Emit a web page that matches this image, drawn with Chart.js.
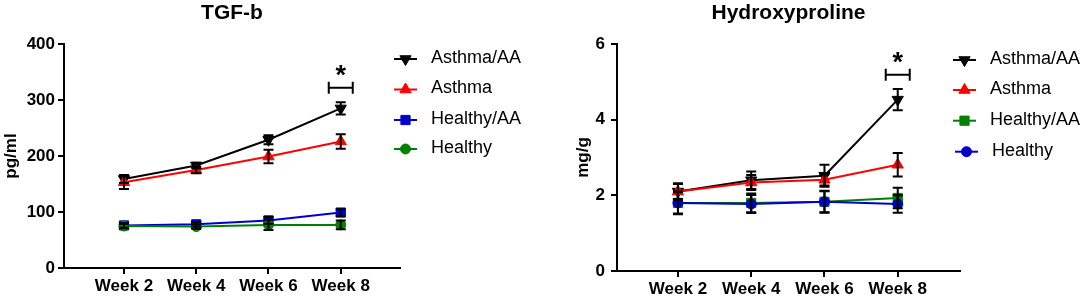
<!DOCTYPE html>
<html>
<head>
<meta charset="utf-8">
<script src="https://cdn.jsdelivr.net/npm/chart.js@4.4.1/dist/chart.umd.min.js"></script>
<style>
  html, body { margin: 0; padding: 0; background: #fff; }
  #wrap { position: relative; width: 1084px; height: 298px; overflow: hidden; }
  canvas { position: absolute; top: 0; }
</style>
</head>
<body>
<div id="wrap">
  <canvas id="tgf" width="540" height="298" style="left:0"></canvas>
  <canvas id="hyp" width="544" height="298" style="left:540px"></canvas>
</div>
<script>
const weeks = [2, 4, 6, 8];
const seriesNames = ['Asthma/AA', 'Asthma', 'Healthy/AA', 'Healthy'];

// TGF-b (pg/ml), mean and error per week
const tgfAsthmaAA = [159, 183, 229, 285];
const tgfAsthmaAAErr = [7, 5, 8, 11];
const tgfAsthma = [153, 175, 199, 226];
const tgfAsthmaErr = [12, 6, 12, 13];
const tgfHealthyAA = [76, 78, 85, 99];
const tgfHealthyAAErr = [4, 4, 6, 6];
const tgfHealthy = [75, 74, 77, 77];
const tgfHealthyErr = [4, 4, 9, 8];
const tgfTicks = [0, 100, 200, 300, 400];
const tgfSig = [8, 322, 350]; // week, bracket level, star level

// Hydroxyproline (mg/g)
const hypAsthmaAA = [2.1, 2.4, 2.52, 4.53];
const hypAsthmaAAErr = [0.22, 0.23, 0.29, 0.28];
const hypAsthma = [2.1, 2.34, 2.41, 2.81];
const hypAsthmaErr = [0.2, 0.2, 0.15, 0.31];
const hypHealthyAA = [1.8, 1.8, 1.83, 1.93];
const hypHealthyAAErr = [0.28, 0.25, 0.29, 0.27];
const hypHealthy = [1.8, 1.77, 1.83, 1.77];
const hypHealthyErr = [0.3, 0.24, 0.28, 0.23];
const hypTicks = [0, 2, 4, 6];
const hypSig = [8, 5.19, 5.62];

const FONT = '"Liberation Sans", Arial, sans-serif';

function drawMarker(ctx, style, r, rot, x, y) {
  ctx.beginPath();
  if (style === 'triangle') {
    let a = rot * Math.PI / 180;
    ctx.moveTo(x + Math.sin(a) * r, y - Math.cos(a) * r);
    a += 2 * Math.PI / 3;
    ctx.lineTo(x + Math.sin(a) * r, y - Math.cos(a) * r);
    a += 2 * Math.PI / 3;
    ctx.lineTo(x + Math.sin(a) * r, y - Math.cos(a) * r);
    ctx.closePath();
  } else if (style === 'rect') {
    const s = Math.SQRT1_2 * r;
    ctx.rect(x - s, y - s, 2 * s, 2 * s);
  } else {
    ctx.arc(x, y, r, 0, Math.PI * 2);
  }
  ctx.fill();
  ctx.stroke();
}

const decor = {
  id: 'decor',
  afterDatasetsDraw(chart, args, opts) {
    const ctx = chart.ctx;
    const xs = chart.scales.x, ys = chart.scales.y;
    ctx.save();
    ctx.strokeStyle = '#000';
    ctx.lineWidth = 2;
    // error bars
    chart.data.datasets.forEach(ds => {
      ds.data.forEach((pt, i) => {
        const e = ds.errors[i];
        const x = xs.getPixelForValue(pt.x);
        const y1 = ys.getPixelForValue(pt.y + e);
        const y2 = ys.getPixelForValue(pt.y - e);
        ctx.beginPath();
        ctx.moveTo(x, y1); ctx.lineTo(x, y2);
        ctx.moveTo(x - 5, y1); ctx.lineTo(x + 5, y1);
        ctx.moveTo(x - 5, y2); ctx.lineTo(x + 5, y2);
        ctx.stroke();
      });
    });
    // significance bracket
    const sig = opts.sig;
    const sx = xs.getPixelForValue(sig[0]);
    const sy = ys.getPixelForValue(sig[1]);
    ctx.beginPath();
    ctx.moveTo(sx - 12, sy); ctx.lineTo(sx + 12, sy);
    ctx.moveTo(sx - 12, sy - 6); ctx.lineTo(sx - 12, sy + 6);
    ctx.moveTo(sx + 12, sy - 6); ctx.lineTo(sx + 12, sy + 6);
    ctx.stroke();
    ctx.fillStyle = '#000';
    ctx.font = 'bold 27px ' + FONT;
    ctx.textAlign = 'center';
    ctx.textBaseline = 'middle';
    ctx.fillText('*', sx, ys.getPixelForValue(sig[2]) + 5);
    ctx.restore();
  },
  afterDraw(chart, args, opts) {
    const ctx = chart.ctx;
    const area = chart.chartArea;
    ctx.save();
    // title
    ctx.fillStyle = '#000';
    ctx.font = 'bold 21px ' + FONT;
    ctx.textAlign = 'center';
    ctx.textBaseline = 'middle';
    ctx.fillText(opts.title, (area.left + area.right) / 2, 13);
    // legend
    const lg = opts.legend;
    ctx.font = '18px ' + FONT;
    ctx.textAlign = 'left';
    chart.data.datasets.forEach((ds, i) => {
      const y = lg.rows[i];
      const dx = lg.shift[i];
      ctx.strokeStyle = ds.borderColor;
      ctx.fillStyle = ds.borderColor;
      ctx.lineWidth = 2;
      ctx.beginPath();
      ctx.moveTo(lg.x + dx, y); ctx.lineTo(lg.x + dx + 23, y);
      ctx.stroke();
      ctx.lineWidth = 1;
      drawMarker(ctx, ds.pointStyle, ds.pointRadius, ds.pointRotation || 0, lg.x + dx + 11.5, y);
      ctx.fillStyle = '#000';
      ctx.fillText(ds.label, lg.x + dx + 37, y - 1);
    });
    ctx.restore();
  }
};

function makeChart(id, cfg) {
  const styles = [
    { pointStyle: 'triangle', pointRotation: 180, pointRadius: 6.5 },
    { pointStyle: 'triangle', pointRotation: 0, pointRadius: 6.5 },
    { pointStyle: 'rect', pointRotation: 0, pointRadius: 6.5 },
    { pointStyle: 'circle', pointRotation: 0, pointRadius: 5 }
  ];
  const datasets = cfg.values.map((vals, i) => ({
    label: seriesNames[i],
    data: weeks.map((w, j) => ({ x: w, y: vals[j] })),
    errors: cfg.errors[i],
    borderColor: cfg.colors[i],
    backgroundColor: cfg.colors[i],
    pointBackgroundColor: cfg.colors[i],
    pointBorderColor: cfg.colors[i],
    pointBorderWidth: 1,
    borderWidth: 2,
    tension: 0,
    order: 3 - i,
    ...styles[i]
  }));

  return new Chart(document.getElementById(id).getContext('2d'), {
    type: 'line',
    data: { datasets },
    plugins: [decor],
    options: {
      responsive: false,
      animation: false,
      events: [],
      layout: { padding: { left: 0, right: cfg.padRight, top: 44, bottom: 0 } },
      scales: {
        x: {
          type: 'linear',
          min: cfg.xMin,
          max: cfg.xMax,
          afterBuildTicks: s => { s.ticks = weeks.map(v => ({ value: v })); },
          afterFit: s => { s.height = cfg.xHeight; },
          grid: { display: true, drawOnChartArea: false, drawTicks: true, tickLength: 6, color: '#000', lineWidth: 2 },
          border: { display: true, color: '#000', width: 2 },
          ticks: {
            autoSkip: false, maxRotation: 0, padding: 2, color: '#000',
            font: { family: FONT, size: 17, weight: 'bold' },
            callback: v => 'Week ' + v
          }
        },
        y: {
          min: cfg.ticks[0],
          max: cfg.ticks[cfg.ticks.length - 1],
          afterBuildTicks: s => { s.ticks = cfg.ticks.map(v => ({ value: v })); },
          afterFit: s => { s.width = cfg.yWidth; },
          grid: { display: true, drawOnChartArea: false, drawTicks: true, tickLength: 6, color: '#000', lineWidth: 2 },
          border: { display: true, color: '#000', width: 2 },
          ticks: { padding: cfg.tickPad, color: '#000', font: { family: FONT, size: 17, weight: 'bold' } },
          title: {
            display: true, text: cfg.yTitle, color: '#000',
            padding: { top: cfg.yTitlePad, bottom: 0 },
            font: { family: FONT, size: 17, weight: 'bold' }
          }
        }
      },
      plugins: {
        legend: { display: false },
        tooltip: { enabled: false },
        decor: { title: cfg.title, sig: cfg.sig, legend: cfg.legend }
      }
    }
  });
}

makeChart('tgf', {
  title: 'TGF-b',
  yTitle: 'pg/ml',
  values: [tgfAsthmaAA, tgfAsthma, tgfHealthyAA, tgfHealthy],
  errors: [tgfAsthmaAAErr, tgfAsthmaErr, tgfHealthyAAErr, tgfHealthyErr],
  colors: ['#000000', '#ff0000', '#0000cc', '#008000'],
  ticks: tgfTicks,
  sig: tgfSig,
  xMin: 0.34, xMax: 9.64,
  padRight: 140, xHeight: 30, yWidth: 64, tickPad: 3, yTitlePad: 1,
  legend: { x: 394, rows: [59, 89.5, 120, 149], shift: [0, 0, 0, 0] }
});

makeChart('hyp', {
  title: 'Hydroxyproline',
  yTitle: 'mg/g',
  values: [hypAsthmaAA, hypAsthma, hypHealthyAA, hypHealthy],
  errors: [hypAsthmaAAErr, hypAsthmaErr, hypHealthyAAErr, hypHealthyErr],
  colors: ['#000000', '#ff0000', '#008000', '#0000cc'],
  ticks: hypTicks,
  sig: hypSig,
  xMin: 0.336, xMax: 9.70,
  padRight: 124, xHeight: 27, yWidth: 77, tickPad: 6, yTitlePad: 33,
  legend: { x: 413, rows: [60, 90, 120.7, 151.7], shift: [0, 0, 0, 2] }
});
</script>
</body>
</html>
